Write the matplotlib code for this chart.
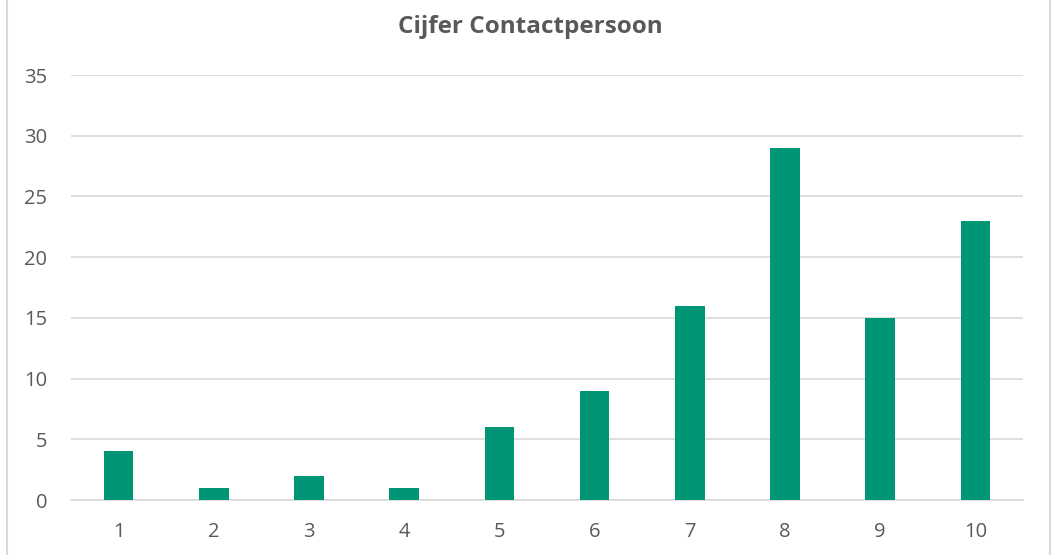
import matplotlib
matplotlib.use('Agg')
import matplotlib.pyplot as plt
from matplotlib.lines import Line2D

plt.rcParams['font.family'] = ['Open Sans', 'DejaVu Sans']

# data
cijfers = ['1', '2', '3', '4', '5', '6', '7', '8', '9', '10']
aantallen = [4, 1, 2, 1, 6, 9, 16, 29, 15, 23]

BAR_COLOR = '#009675'
GRID_COLOR = '#d9d9d9'
TEXT_COLOR = '#595959'

fig = plt.figure(figsize=(10.53, 5.55), dpi=100)
fig.patch.set_facecolor('white')

# light border lines left and right of the chart area
fig.add_artist(Line2D([7 / 1053, 7 / 1053], [0, 1], color=GRID_COLOR, lw=1.5, transform=fig.transFigure))
fig.add_artist(Line2D([1050 / 1053, 1050 / 1053], [0, 1], color=GRID_COLOR, lw=1.5, transform=fig.transFigure))

ax = fig.add_axes([71 / 1053, 1 - 500 / 555, (1023 - 71) / 1053, (500 - 75) / 555])
x = list(range(len(cijfers)))
ax.bar(x, aantallen, width=0.31, color=BAR_COLOR, zorder=3)

ax.set_xlim(-0.5, len(cijfers) - 0.5)
ax.set_ylim(0, 35)
ax.set_yticks(range(0, 36, 5))
ax.set_xticks(x)
ax.set_xticklabels(cijfers)

ax.grid(axis='y', color=GRID_COLOR, lw=1.2, zorder=0)
for s in ['top', 'right', 'left']:
    ax.spines[s].set_visible(False)
ax.spines['bottom'].set_color(GRID_COLOR)
ax.spines['bottom'].set_linewidth(1.2)
ax.tick_params(length=0, colors=TEXT_COLOR, labelsize=14.5)
ax.tick_params(axis='x', pad=16)
ax.tick_params(axis='y', pad=17)

fig.text(0.5035, 1 - 27 / 555, 'Cijfer Contactpersoon', ha='center', va='center',
         fontsize=17.5, weight='bold', color=TEXT_COLOR)

fig.savefig('out.png', dpi=100)
